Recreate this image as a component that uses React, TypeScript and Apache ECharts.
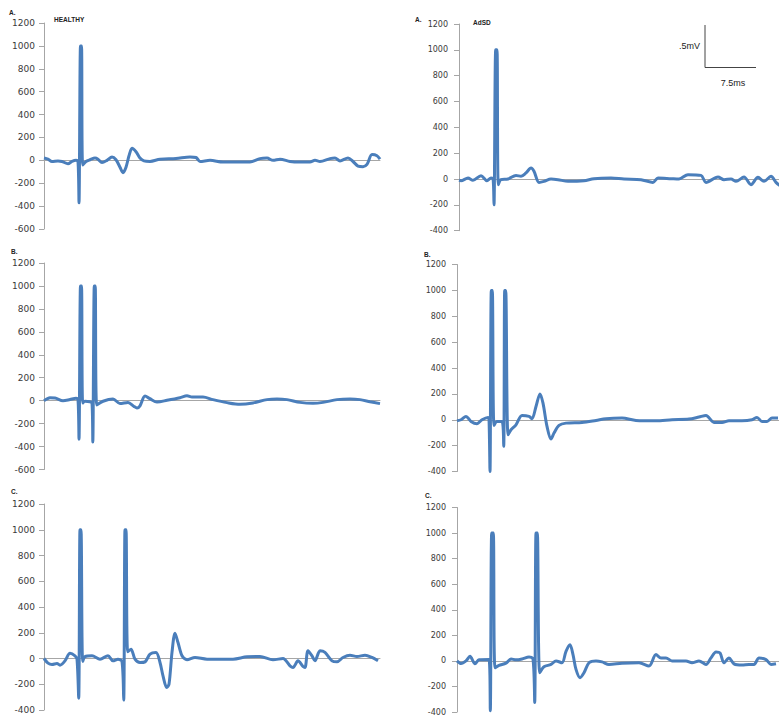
import React, { useEffect, useRef } from "react";
import * as echarts from "echarts";

// [time sample, amplitude] pairs
const healthyA: number[][] = [
  [0, 20], [4, 10], [8, -10], [14, -5], [18, -10], [24, -30], [28, -10], [32, 0], [34, -10],
  [35, -370], [36.5, 1000], [37.5, 1000], [38.7, -40], [42, -10], [46, 5], [51, 20], [54, 10],
  [58, -20], [63, 0], [68, 30], [72, 5], [76, -60], [79, -108], [82, -60], [85, 40], [88, 105],
  [92, 75], [96, 20], [100, -5], [106, -10], [116, 10], [132, 15], [146, 30], [152, 25],
  [156, -10], [166, 0], [179, -15], [206, -15], [216, 15], [223, 20], [229, 0], [236, 10],
  [246, -10], [256, -15], [266, -15], [271, 0], [276, -10], [286, 15], [291, 20], [296, -5],
  [304, 20], [309, -10], [314, -50], [319, -55], [323, -35], [328, 50], [333, 40], [336, 10],
];

const healthyB: number[][] = [
  [0, 0], [3, 15], [6, 25], [11, 23], [19, 0], [26, 10], [32, 20], [34, 10], [35, -336],
  [36.5, 1000], [37.5, 1000], [38.7, -20], [41, -5], [46, -10], [48, -20], [48.8, -360],
  [50.3, 1000], [51.2, 1000], [52.7, -38], [59, -5], [69, 15], [76, -25], [84, -15], [90, -50],
  [93, -64], [96, -45], [101, 40], [106, 17], [113, -12], [123, 3], [136, 26], [143, 43],
  [148, 32], [159, 32], [169, 9], [183, -17], [196, -32], [209, -20], [223, 9], [233, 15],
  [243, 9], [256, -15], [269, -23], [279, -15], [293, 9], [306, 15], [316, 9], [326, -9],
  [336, -26],
];

const healthyC: number[][] = [
  [0, 0], [4, -36], [8, -47], [13, -39], [16, -52], [21, -18], [26, 41], [31, 21], [33, -5],
  [34.7, -308], [36, 1000], [37, 1000], [38.7, -23], [41, 15], [48, 21], [56, -5], [64, 21],
  [69, -18], [74, -5], [78, -23], [79.7, -323], [81, 1000], [82, 1000], [83.7, 52], [87, 72],
  [91, -5], [96, -31], [101, -26], [106, 34], [112, 47], [116, -31], [119, -135], [122.7, -225],
  [125, -200], [128, 47], [131, 197], [134, 124], [138, 21], [143, -10], [151, 8], [163, -5],
  [189, -5], [203, 13], [216, 15], [229, -10], [239, 0], [246, -57], [249, -70], [254, -18],
  [259, -62], [261, -70], [264, 60], [268, 21], [271, -18], [276, 60], [281, 47], [288, -18],
  [293, -26], [299, 8], [306, 26], [313, 15], [321, 26], [328, 8], [334, -18],
];

const adsdA: number[][] = [
  [0, -10], [2, -13], [9, 8], [14, -10], [22, 26], [28, -13], [32, 8], [34, 5], [35, -200],
  [36.7, 1000], [38, 1000], [39.3, -44], [42, -5], [49, 0], [57, 28], [62, 21], [67, 47],
  [72, 85], [75, 60], [80, -26], [85, -18], [92, 0], [99, -5], [109, -18], [125, -13], [135, 3],
  [152, 8], [165, 0], [182, -5], [194, -26], [199, 8], [212, 3], [220, 0], [229, 34], [242, 28],
  [247, -26], [259, 15], [265, -5], [272, 0], [277, -18], [285, 15], [292, -44], [299, 13],
  [305, -18], [312, 21], [317, -26], [321, -52],
];

const adsdB: number[][] = [
  [0, -8], [4, 0], [9, 26], [14, -13], [20, -31], [25, 0], [31, 18], [32, 10], [33, -400],
  [34.3, 1000], [35.3, 1000], [37, -44], [40, -13], [45, -13], [46.7, -205], [47.7, 1000],
  [48.7, 1000], [51, -116], [54, -77], [59, -39], [65, 33], [72, 26], [75, 8], [79, 103],
  [83, 200], [86, 128], [90, -51], [94, -149], [97, -103], [102, -44], [109, -26], [125, -21],
  [139, -5], [149, 8], [165, 13], [179, -5], [199, -8], [215, 0], [232, 5], [242, 21],
  [249, 33], [257, -21], [265, -21], [272, -8], [285, -8], [295, 0], [300, 18], [305, -13],
  [310, -13], [315, 13], [321, 13],
];

const adsdC: number[][] = [
  [0, 0], [4, -21], [9, 0], [13, 36], [18, -23], [22, 8], [32, 10], [33.3, -390],
  [34.7, 1000], [36.3, 1000], [38, -54], [42, -36], [49, -18], [54, 15], [59, 8], [65, 15],
  [72, 31], [76, 15], [77.7, -325], [79, 1000], [80.3, 1000], [82.7, -93], [87, -46],
  [94, -28], [99, 0], [105, -15], [109, 75], [113, 126], [116, 49], [119, -67], [123, -132],
  [127, -93], [132, -15], [139, 0], [145, -8], [152, -28], [165, -18], [182, -15], [192, -41],
  [199, 49], [204, 23], [209, 23], [215, 0], [229, 0], [235, -15], [242, 0], [249, -28],
  [254, 23], [259, 70], [263, 62], [267, -15], [272, 23], [277, -23], [285, -33], [292, -28],
  [297, -28], [302, 23], [309, 10], [314, -28], [319, -23],
];

const seriesList = [healthyA, healthyB, healthyC, adsdA, adsdB, adsdC];
const yMins = [-600, -600, -400, -400, -400, -400];
const yMax = 1200;
const yStep = 200;
const xMax = 336;
const panelLetters = ["A.", "B.", "C.", "A.", "B.", "C."];
const groupTitles = ["HEALTHY", "AdSD"];
const scaleBarV = ".5mV";
const scaleBarH = "7.5ms";

// layout (pixels)
const layout = [
  { left: 44, top: 23, height: 206, font: 9, margin: 9 },
  { left: 44, top: 263, height: 206.5, font: 9, margin: 9 },
  { left: 44, top: 504, height: 206, font: 9, margin: 9 },
  { left: 459, top: 24, height: 206.7, font: 8, margin: 11 },
  { left: 457, top: 264.5, height: 207, font: 8, margin: 11 },
  { left: 457, top: 507.5, height: 204.5, font: 8, margin: 11 },
];
const letterPos = [
  [9, 12], [11, 251], [11, 491], [415, 19], [424, 254], [425, 495],
];

const LINE = "#4A7EBB";
const AXIS = "#a6a6a6";
const FONT = "DejaVu Sans";

export default function App() {
  const ref = useRef<HTMLDivElement>(null);
  useEffect(() => {
    if (!ref.current) return;
    const chart = echarts.init(ref.current, undefined, { renderer: "svg" });
    const grid = layout.map((l) => ({
      left: l.left,
      top: l.top,
      width: xMax,
      height: l.height,
      containLabel: false,
      outerBoundsMode: "none",
    }));
    const xAxis = layout.map((_, i) => ({
      type: "value",
      gridIndex: i,
      min: 0,
      max: xMax,
      axisLine: { show: true, onZero: true, lineStyle: { color: AXIS, width: 1 } },
      axisTick: { show: false },
      axisLabel: { show: false },
      splitLine: { show: false },
    }));
    const yAxis = layout.map((l, i) => ({
      type: "value",
      gridIndex: i,
      min: yMins[i],
      max: yMax,
      interval: yStep,
      axisLine: { show: true, lineStyle: { color: AXIS, width: 1 } },
      axisTick: { show: true, inside: false, length: 5, lineStyle: { color: AXIS } },
      axisLabel: {
        show: true,
        margin: l.margin,
        fontSize: l.font,
        fontFamily: FONT,
        color: "#3a3a3a",
        formatter: (v: number) => String(v),
      },
      splitLine: { show: false },
    }));
    const series = seriesList.map((d, i) => ({
      type: "line",
      xAxisIndex: i,
      yAxisIndex: i,
      data: d,
      showSymbol: false,
      smooth: 0.3,
      lineStyle: { color: LINE, width: 3 },
      itemStyle: { color: LINE },
    }));
    const textStyle = (size: number, bold = false) => ({
      fontFamily: "Liberation Sans",
      fontSize: size,
      fontWeight: bold ? "bold" : "normal",
      fill: "#222",
    });
    const graphic: any[] = [];
    panelLetters.forEach((t, i) => {
      graphic.push({
        type: "text",
        x: letterPos[i][0],
        y: letterPos[i][1],
        style: { text: t, ...textStyle(6.5, true), verticalAlign: "middle" },
      });
    });
    graphic.push({
      type: "text",
      x: 54,
      y: 19,
      style: { text: groupTitles[0], ...textStyle(6.5, true), verticalAlign: "middle" },
    });
    graphic.push({
      type: "text",
      x: 473,
      y: 22,
      style: { text: groupTitles[1], ...textStyle(6.5, true), verticalAlign: "middle" },
    });
    graphic.push({
      type: "polyline",
      shape: { points: [[705, 25], [705, 67.5], [756, 67.5]] },
      style: { stroke: "#444", lineWidth: 1, fill: null },
    });
    graphic.push({
      type: "text",
      x: 700,
      y: 46,
      style: { text: scaleBarV, ...textStyle(9), align: "right", verticalAlign: "middle" },
    });
    graphic.push({
      type: "text",
      x: 733,
      y: 83,
      style: { text: scaleBarH, ...textStyle(9), align: "center", verticalAlign: "middle" },
    });
    chart.setOption({
      animation: false,
      backgroundColor: "#fff",
      grid,
      xAxis,
      yAxis,
      series,
      graphic,
    } as any);
    return () => chart.dispose();
  }, []);
  return (
    <div
      ref={ref}
      style={{ position: "absolute", left: 0, top: 0, width: 779, height: 717 }}
    />
  );
}
